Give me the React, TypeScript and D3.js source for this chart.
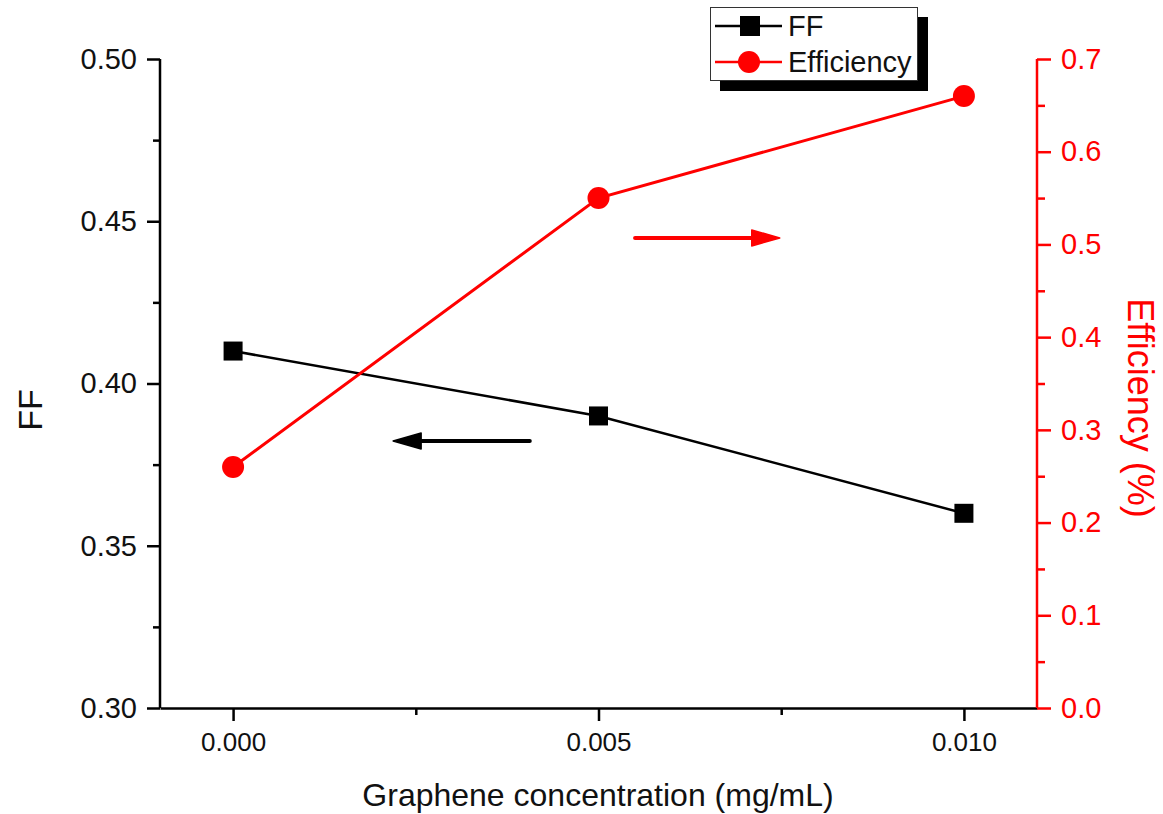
import React, { useRef, useEffect } from 'react'
import * as d3 from 'd3'

// data
const concentrations = [0.0, 0.005, 0.01]
const ffValues = [0.41, 0.39, 0.36]
const effValues = [0.26, 0.55, 0.66]
const xTicks = [0.0, 0.005, 0.01]
const xMinorTicks = [0.0025, 0.0075]
const ffTicks = [0.3, 0.35, 0.4, 0.45, 0.5]
const effTicks = [0, 0.1, 0.2, 0.3, 0.4, 0.5, 0.6, 0.7]
// direction arrows, in data units
const ffArrow = { x1: 0.00406, x2: 0.00219, y: 0.3823 }
const effArrow = { x1: 0.0055, x2: 0.00748, y: 0.507 }

const W = 1163
const H = 814
const FONT = "'Liberation Sans', Arial, sans-serif"
const RED = '#ff0000'

export default function App() {
  const svgRef = useRef<SVGSVGElement>(null)

  useEffect(() => {
    const svg = d3.select(svgRef.current)
    svg.selectAll('*').remove()

    const left = 160, right = 1037, top = 59, bottom = 708

    const x = d3.scaleLinear().domain([-0.001, 0.011]).range([left, right])
    const yL = d3.scaleLinear().domain([0.3, 0.5]).range([bottom, top])
    const yR = d3.scaleLinear().domain([0, 0.7]).range([bottom, top])

    svg.append('rect').attr('width', W).attr('height', H).attr('fill', '#fff')

    // bottom axis
    const xAxis = svg.append('g').attr('transform', `translate(0,${bottom})`)
      .call(d3.axisBottom(x).tickValues(xTicks).tickSize(13).tickSizeOuter(0).tickPadding(12)
        .tickFormat(d3.format('.3f')))
    xAxis.select('.domain').attr('stroke-width', 2.5)
    xAxis.selectAll('.tick line').attr('stroke-width', 2.5)
    xAxis.selectAll('.tick text').attr('font-family', FONT).attr('font-size', 26).attr('fill', '#111')
    svg.append('g').attr('transform', `translate(0,${bottom})`)
      .call(d3.axisBottom(x).tickValues(xMinorTicks).tickSize(7).tickFormat(() => ''))
      .call(g => g.select('.domain').remove())
      .selectAll('line').attr('stroke-width', 2.5)

    // left axis
    const yAxisL = svg.append('g').attr('transform', `translate(${left},0)`)
      .call(d3.axisLeft(yL).tickValues(ffTicks).tickSize(13).tickPadding(10)
        .tickFormat(d3.format('.2f')))
    yAxisL.select('.domain').attr('d', `M0,${top}V${bottom}`).attr('stroke-width', 2.5)
    yAxisL.selectAll('.tick line').attr('stroke-width', 2.5)
    yAxisL.selectAll('.tick text').attr('font-family', FONT).attr('font-size', 29).attr('fill', '#111')
    svg.append('g').attr('transform', `translate(${left},0)`)
      .call(d3.axisLeft(yL).tickValues(d3.range(0.325, 0.5, 0.05)).tickSize(7).tickFormat(() => ''))
      .call(g => g.select('.domain').remove())
      .selectAll('line').attr('stroke-width', 2.5)

    // right axis
    const yAxisR = svg.append('g').attr('transform', `translate(${right},0)`)
      .call(d3.axisRight(yR).tickValues(effTicks).tickSize(14).tickPadding(10)
        .tickFormat(d3.format('.1f')))
    yAxisR.select('.domain').attr('d', `M0,${top}V${bottom}`).attr('stroke', RED).attr('stroke-width', 2.5)
    yAxisR.selectAll('.tick line').attr('stroke', RED).attr('stroke-width', 2.5)
    yAxisR.selectAll('.tick text').attr('font-family', FONT).attr('font-size', 29).attr('fill', RED)
    svg.append('g').attr('transform', `translate(${right},0)`)
      .call(d3.axisRight(yR).tickValues(d3.range(0.05, 0.7, 0.1)).tickSize(8).tickFormat(() => ''))
      .call(g => g.select('.domain').remove())
      .selectAll('line').attr('stroke', RED).attr('stroke-width', 2.5)

    // axis titles
    svg.append('text')
      .attr('x', 598).attr('y', 806)
      .attr('text-anchor', 'middle')
      .attr('font-family', FONT).attr('font-size', 32).attr('fill', '#111')
      .text('Graphene concentration (mg/mL)')
    svg.append('text')
      .attr('transform', 'translate(42,410) rotate(-90)')
      .attr('text-anchor', 'middle')
      .attr('font-family', FONT).attr('font-size', 34).attr('fill', '#111')
      .text('FF')
    svg.append('text')
      .attr('transform', 'translate(1128,408) rotate(90)')
      .attr('text-anchor', 'middle')
      .attr('font-family', FONT).attr('font-size', 36).attr('fill', RED)
      .text('Efficiency (%)')

    // series
    const ffData = concentrations.map((c, i) => ({ x: c, y: ffValues[i] }))
    const effData = concentrations.map((c, i) => ({ x: c, y: effValues[i] }))

    svg.append('path')
      .attr('fill', 'none').attr('stroke', '#000').attr('stroke-width', 2.5)
      .attr('d', d3.line<{ x: number; y: number }>().x(d => x(d.x)).y(d => yL(d.y))(ffData))
    svg.selectAll('.sq').data(ffData).join('rect')
      .attr('x', d => x(d.x) - 9.5).attr('y', d => yL(d.y) - 9.5)
      .attr('width', 19).attr('height', 19).attr('fill', '#000')

    svg.append('path')
      .attr('fill', 'none').attr('stroke', RED).attr('stroke-width', 3)
      .attr('d', d3.line<{ x: number; y: number }>().x(d => x(d.x)).y(d => yR(d.y))(effData))
    svg.selectAll('.ci').data(effData).join('circle')
      .attr('cx', d => x(d.x)).attr('cy', d => yR(d.y)).attr('r', 11).attr('fill', RED)

    // arrows
    const drawArrow = (x1: number, x2: number, y: number, color: string) => {
      const dir = Math.sign(x2 - x1)
      const headLen = 28
      svg.append('line')
        .attr('x1', x1).attr('x2', x2 - dir * headLen).attr('y1', y).attr('y2', y)
        .attr('stroke', color).attr('stroke-width', 4).attr('stroke-linecap', 'round')
      svg.append('path')
        .attr('d', `M${x2},${y}L${x2 - dir * headLen},${y - 8}L${x2 - dir * headLen},${y + 8}Z`)
        .attr('fill', color).attr('stroke', color).attr('stroke-width', 1.5).attr('stroke-linejoin', 'round')
    }
    drawArrow(x(ffArrow.x1), x(ffArrow.x2), yL(ffArrow.y), '#000')
    drawArrow(x(effArrow.x1), x(effArrow.x2), yR(effArrow.y), RED)

    // legend
    const lg = svg.append('g')
    lg.append('rect').attr('x', 720).attr('y', 17).attr('width', 208).attr('height', 74).attr('fill', '#000')
    lg.append('rect').attr('x', 710.5).attr('y', 7.5).attr('width', 207).attr('height', 73)
      .attr('fill', '#fff').attr('stroke', '#333').attr('stroke-width', 1)
    lg.append('line').attr('x1', 715).attr('x2', 782).attr('y1', 26).attr('y2', 26)
      .attr('stroke', '#000').attr('stroke-width', 2.5)
    lg.append('rect').attr('x', 740).attr('y', 16).attr('width', 20).attr('height', 20).attr('fill', '#000')
    lg.append('text').attr('x', 788).attr('y', 36)
      .attr('font-family', FONT).attr('font-size', 29).attr('fill', '#111').text('FF')
    lg.append('line').attr('x1', 715).attr('x2', 782).attr('y1', 62).attr('y2', 62)
      .attr('stroke', RED).attr('stroke-width', 2.5)
    lg.append('circle').attr('cx', 749).attr('cy', 62).attr('r', 11).attr('fill', RED)
    lg.append('text').attr('x', 788).attr('y', 72)
      .attr('font-family', FONT).attr('font-size', 29).attr('fill', '#111').text('Efficiency')
  }, [])

  return (
    <div style={{ position: 'fixed', left: 0, top: 0 }}>
      <svg ref={svgRef} width={W} height={H} style={{ display: 'block' }} />
    </div>
  )
}
